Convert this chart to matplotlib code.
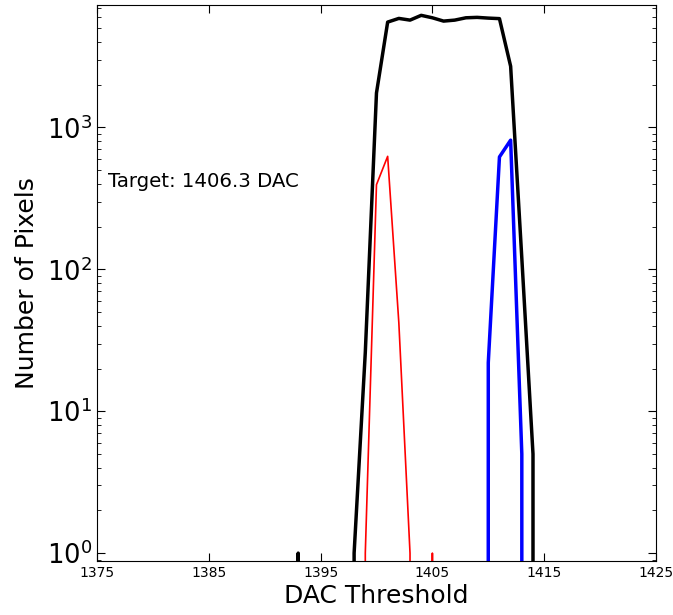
import matplotlib
matplotlib.use("Agg")
from matplotlib import pyplot as plt
from matplotlib.ticker import LogLocator, NullFormatter
import numpy as np

# DAC threshold values (one histogram bin per DAC step)
dac = list(range(1375, 1426))

# total counts (black), low-side counts (red), high-side counts (blue)
total_counts = {1393: 1, 1398: 1, 1399: 26, 1400: 1750, 1401: 5530, 1402: 5870,
                1403: 5710, 1404: 6170, 1405: 5930, 1406: 5620, 1407: 5710,
                1408: 5930, 1409: 5970, 1410: 5900, 1411: 5850, 1412: 2700,
                1413: 120, 1414: 5}
low_counts = {1399: 1, 1400: 395, 1401: 626, 1402: 42, 1403: 1, 1405: 1}
high_counts = {1410: 22, 1411: 620, 1412: 814, 1413: 5}

target_text = "Target: 1406.3 DAC"

black = [total_counts.get(d, 0) for d in dac]
red = [low_counts.get(d, 0) for d in dac]
blue = [high_counts.get(d, 0) for d in dac]

fig = plt.figure(figsize=(6.73, 6.15), dpi=100)
ax = fig.add_axes([0.1441, 0.0878, 0.8306, 0.9041])

ax.set_yscale('log', nonpositive='clip')
ax.plot(dac, black, color='black', lw=2.5)
ax.plot(dac, red, color='red', lw=1.2)
ax.plot(dac, blue, color='blue', lw=2.5)

ax.set_xlim(1375, 1425)
ax.set_ylim(0.88, 7300)
ax.set_xticks(range(1375, 1426, 10))
ax.yaxis.set_major_locator(LogLocator(base=10, numticks=10))
ax.yaxis.set_minor_locator(LogLocator(base=10, subs=np.arange(2, 10), numticks=10))
ax.yaxis.set_minor_formatter(NullFormatter())

ax.tick_params(which='both', direction='in', top=True, right=True)
ax.tick_params(which='major', length=6)
ax.tick_params(which='minor', length=3)
ax.tick_params(axis='x', labelsize=10)
ax.tick_params(axis='y', labelsize=18.5)

ax.text(1376, 380, target_text, fontsize=14.2, va='baseline', ha='left')

ax.set_xlabel('DAC Threshold', fontsize=18, labelpad=3)
ax.set_ylabel('Number of Pixels', fontsize=18, labelpad=6)

fig.savefig('out.png', dpi=100)
